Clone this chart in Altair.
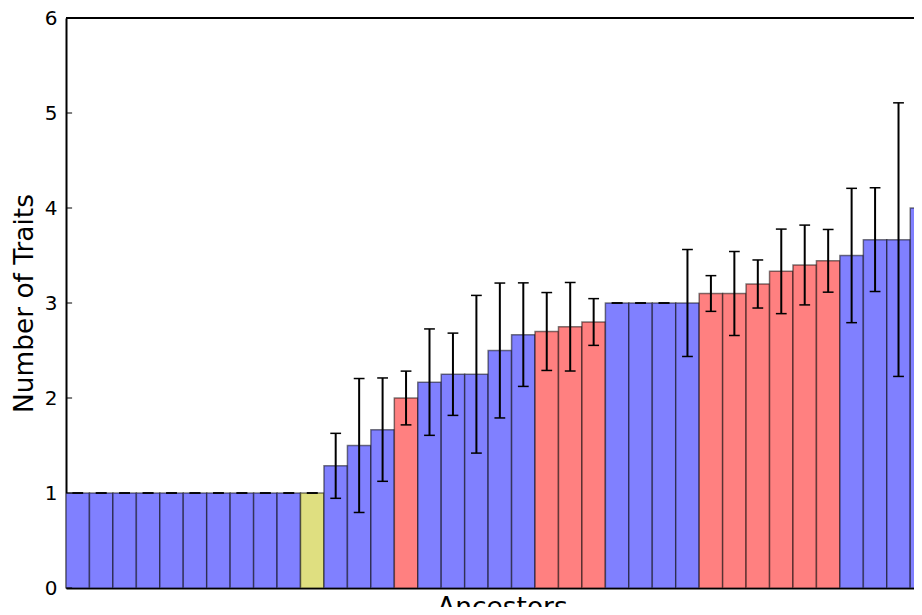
import altair as alt
import pandas as pd

# ---- data ----
values = [1, 1, 1, 1, 1, 1, 1, 1, 1, 1,
          1, 1.286, 1.5, 1.667, 2.0, 2.167, 2.25, 2.25, 2.5, 2.667,
          2.7, 2.75, 2.8, 3.0, 3.0, 3.0, 3.0, 3.1, 3.1, 3.2,
          3.333, 3.4, 3.444, 3.5, 3.667, 3.667, 4.0]
errors = [0, 0, 0, 0, 0, 0, 0, 0, 0, 0,
          0, 0.342, 0.705, 0.544, 0.283, 0.56, 0.433, 0.83, 0.71, 0.545,
          0.41, 0.466, 0.246, 0, 0, 0, 0.563, 0.188, 0.442, 0.253,
          0.445, 0.42, 0.33, 0.707, 0.546, 1.44, 0]
groups = (["blue"] * 10 + ["yellow"] + ["blue"] * 3 + ["red"] + ["blue"] * 5
          + ["red"] * 3 + ["blue"] * 4 + ["red"] * 6 + ["blue"] * 4)
y_ticks = [0, 1, 2, 3, 4, 5, 6]

group_names = ["blue", "red", "yellow"]
group_colors = ["#8080ff", "#ff8080", "#dfdf80"]

df = pd.DataFrame({
    "idx": list(range(len(values))),
    "value": values,
    "err": errors,
    "group": groups,
})
ticks_df = pd.DataFrame({"tick": y_ticks})

# 848 px plot width shows 848/23.45 = 36.16 bar slots
x_scale = alt.Scale(domain=[0, 36.16], nice=False, zero=False)
y_scale = alt.Scale(domain=[0, 6], nice=False)

base = alt.Chart(df).transform_calculate(
    x0="datum.idx",
    x1="datum.idx + 1",
    xc="datum.idx + 0.5",
    cl="datum.idx + 0.5 - 0.23",
    cr="datum.idx + 0.5 + 0.23",
    lo="datum.value - datum.err",
    hi="datum.value + datum.err",
)

bars = base.mark_bar(stroke="black", strokeOpacity=0.5, strokeWidth=1.5, clip=True).encode(
    x=alt.X("x0:Q", scale=x_scale,
            axis=alt.Axis(title="Ancestors", labels=False, ticks=False, grid=False,
                          domainColor="black", domainWidth=2,
                          titleFontSize=26.4, titleFont="DejaVu Sans",
                          titleFontWeight="normal", titleColor="black",
                          titleX=436, titleY=27, titleBaseline="alphabetic",
                          titleAlign="center")),
    x2="x1:Q",
    y=alt.Y("value:Q", scale=y_scale,
            axis=alt.Axis(title="Number of Traits", values=y_ticks, format="d", grid=False,
                          ticks=False, tickSize=0,
                          domainColor="black", domainWidth=2,
                          labelFontSize=20, labelFont="DejaVu Sans", labelColor="black",
                          labelPadding=9,
                          titleFontSize=26.4, titleFont="DejaVu Sans",
                          titleFontWeight="normal", titleColor="black", titlePadding=6)),
    y2=alt.datum(0),
    color=alt.Color("group:N", scale=alt.Scale(domain=group_names, range=group_colors),
                    legend=None),
)

err_lines = base.mark_rule(color="black", strokeWidth=2, clip=True).encode(
    x="xc:Q", y="lo:Q", y2="hi:Q"
)
cap_top = base.mark_rule(color="black", strokeWidth=1.5, clip=True).encode(
    x="cl:Q", x2="cr:Q", y="hi:Q"
)
cap_bot = base.mark_rule(color="black", strokeWidth=1.5, clip=True).encode(
    x="cl:Q", x2="cr:Q", y="lo:Q"
)

# inward-pointing y ticks
inner_ticks = alt.Chart(ticks_df).mark_rule(color="black", strokeWidth=1).encode(
    y=alt.Y("tick:Q", scale=y_scale),
    x=alt.datum(0),
    x2=alt.datum(0.26),
)

top_border = alt.Chart(ticks_df).mark_rule(color="black", strokeWidth=2).encode(
    y=alt.datum(6)
)

chart = alt.layer(bars, err_lines, cap_top, cap_bot, inner_ticks, top_border).properties(
    width=848,
    height=570,
    autosize=alt.AutoSizeParams(type="none"),
    padding={"left": 58, "top": 10, "right": 0, "bottom": 19},
).configure_view(stroke=None)

chart.save("out.html", embed_options={"renderer": "svg", "actions": False})
